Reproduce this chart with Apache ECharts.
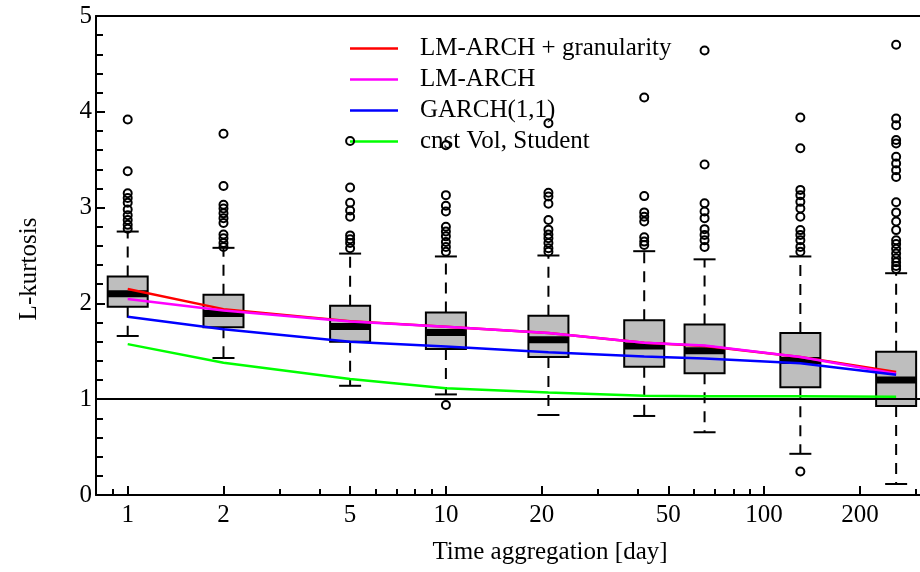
<!DOCTYPE html>
<html>
<head>
<meta charset="utf-8">
<script src="https://cdn.jsdelivr.net/npm/echarts@6/dist/echarts.min.js"></script>
<style>
  html, body { margin: 0; padding: 0; background: #fff; }
  #chart { width: 920px; height: 572px; }
</style>
</head>
<body>
<div id="chart"></div>
<script>
// Aggregation horizons (days) at which the L-kurtosis distribution is summarised
const days = [1, 2, 5, 10, 21, 42, 65, 130, 260];

// Box-and-whisker statistics per horizon
const whiskerLow  = [1.66, 1.43, 1.14, 1.05, 0.835, 0.825, 0.655, 0.43, 0.115];
const quartile1   = [1.965, 1.75, 1.60, 1.525, 1.44, 1.34, 1.27, 1.125, 0.93];
const medians     = [2.10, 1.895, 1.76, 1.695, 1.62, 1.555, 1.505, 1.405, 1.20];
const quartile3   = [2.28, 2.09, 1.975, 1.905, 1.87, 1.825, 1.78, 1.69, 1.495];
const whiskerHigh = [2.75, 2.58, 2.52, 2.49, 2.50, 2.545, 2.46, 2.49, 2.315];

// Outlying values per horizon
const outliers = [
  [3.92, 3.38, 3.15, 3.10, 3.05, 2.98, 2.92, 2.87, 2.82, 2.78],
  [3.77, 3.225, 3.03, 2.99, 2.94, 2.89, 2.84, 2.72, 2.68, 2.63, 2.59],
  [3.695, 3.21, 3.05, 2.97, 2.905, 2.71, 2.67, 2.63, 2.575],
  [3.65, 3.13, 3.02, 2.96, 2.80, 2.75, 2.70, 2.64, 2.59, 2.54, 0.94],
  [3.88, 3.155, 3.115, 3.04, 2.87, 2.77, 2.72, 2.68, 2.63, 2.575, 2.54],
  [4.15, 3.12, 2.95, 2.905, 2.855, 2.69, 2.645, 2.61],
  [4.64, 3.45, 3.045, 2.96, 2.89, 2.775, 2.715, 2.66, 2.59],
  [3.94, 3.62, 3.185, 3.13, 3.06, 2.99, 2.905, 2.765, 2.715, 2.66, 2.59, 2.54, 0.245],
  [4.70, 3.93, 3.86, 3.705, 3.67, 3.53, 3.46, 3.39, 3.32, 3.055, 2.95, 2.855, 2.765,
   2.66, 2.62, 2.57, 2.52, 2.47, 2.43, 2.39, 2.36]
];

// Model curves
const lmArchGranularity = [2.15, 1.94, 1.815, 1.755, 1.69, 1.59, 1.555, 1.44, 1.285];
const lmArch            = [2.045, 1.925, 1.81, 1.755, 1.69, 1.59, 1.56, 1.44, 1.265];
const garch11           = [1.86, 1.73, 1.60, 1.55, 1.49, 1.445, 1.425, 1.375, 1.255];
const cnstVolStudent    = [1.575, 1.38, 1.21, 1.115, 1.07, 1.035, 1.03, 1.03, 1.025];

// Axis settings
const xRangeDays = [0.795, 309];
const xMajorTicks = [1, 2, 5, 10, 20, 50, 100, 200];
const xMinorTicks = [0.9, 3, 4, 6, 7, 8, 9, 30, 40, 60, 70, 80, 90, 300];
const yTicks = [0, 1, 2, 3, 4, 5];
const seriesNames = ['LM-ARCH + granularity', 'LM-ARCH', 'GARCH(1,1)', 'cnst Vol, Student'];

const lg = Math.log10;
const xMin = lg(xRangeDays[0]);
const xMax = lg(xRangeDays[1]);
const FONT = 'Liberation Serif';

const boxData = days.map((d, i) => [lg(d), whiskerLow[i], quartile1[i], medians[i], quartile3[i], whiskerHigh[i]]);
const outlierData = [];
outliers.forEach((list, i) => list.forEach(v => outlierData.push([lg(days[i]), v])));
const curve = vals => days.map((d, i) => [lg(d), vals[i]]);

function renderBox(params, api) {
  const x = api.value(0);
  const lo = api.coord([x, api.value(1)]);
  const q1 = api.coord([x, api.value(2)]);
  const md = api.coord([x, api.value(3)]);
  const q3 = api.coord([x, api.value(4)]);
  const hi = api.coord([x, api.value(5)]);
  const cx = lo[0];
  const hw = 20, cw = 11;
  const dashed = { stroke: '#000', lineWidth: 2, lineDash: [11, 8] };
  const solid = { stroke: '#000', lineWidth: 2 };
  return {
    type: 'group',
    children: [
      { type: 'line', shape: { x1: cx, y1: q3[1], x2: cx, y2: hi[1] }, style: dashed },
      { type: 'line', shape: { x1: cx, y1: q1[1], x2: cx, y2: lo[1] }, style: dashed },
      { type: 'line', shape: { x1: cx - cw, y1: hi[1], x2: cx + cw, y2: hi[1] }, style: solid },
      { type: 'line', shape: { x1: cx - cw, y1: lo[1], x2: cx + cw, y2: lo[1] }, style: solid },
      { type: 'rect', shape: { x: cx - hw, y: q3[1], width: 2 * hw, height: q1[1] - q3[1] },
        style: { fill: '#bebebe', stroke: '#000', lineWidth: 2 } },
      { type: 'line', shape: { x1: cx - hw, y1: md[1], x2: cx + hw, y2: md[1] },
        style: { stroke: '#000', lineWidth: 7 } }
    ]
  };
}

const axisLineStyle = { show: true, onZero: false, lineStyle: { color: '#000', width: 2 } };
const baseX = { type: 'value', min: xMin, max: xMax, splitLine: { show: false } };

const lineSeries = (name, color, vals, extra) => Object.assign({
  name, type: 'line', data: curve(vals), symbol: 'none', z: 3,
  color, lineStyle: { color, width: 2.5 }, silent: true
}, extra || {});

const chart = echarts.init(document.getElementById('chart'), null, { renderer: 'canvas' });
chart.setOption({
  animation: false,
  backgroundColor: '#fff',
  grid: { left: 96, right: 0, top: 16, bottom: 77, outerBoundsMode: 'none', containLabel: false },
  legend: {
    data: seriesNames,
    orient: 'vertical',
    left: 350, top: 36,
    padding: 0,
    itemGap: 6,
    itemWidth: 48, itemHeight: 2.5,
    icon: 'rect',
    selectedMode: false,
    textStyle: { fontFamily: FONT, fontSize: 25, color: '#000', lineHeight: 25, padding: [0, 0, 0, 17] }
  },
  xAxis: [
    Object.assign({}, baseX, {
      position: 'bottom',
      name: 'Time aggregation [day]',
      nameLocation: 'middle',
      nameGap: 45,
      nameTextStyle: { fontFamily: FONT, fontSize: 25, color: '#000', padding: [0, 0, 0, 84] },
      axisLine: axisLineStyle,
      axisTick: { show: true, inside: true, length: 9, customValues: xMajorTicks.map(lg),
                  lineStyle: { color: '#000', width: 2 } },
      axisLabel: { show: true, customValues: xMajorTicks.map(lg), margin: 8,
                   fontFamily: FONT, fontSize: 25, color: '#000',
                   formatter: v => String(Math.round(Math.pow(10, v))) }
    }),
    Object.assign({}, baseX, {
      position: 'bottom',
      axisLine: { show: false, onZero: false },
      axisTick: { show: true, inside: true, length: 6, customValues: xMinorTicks.map(lg),
                  lineStyle: { color: '#000', width: 2 } },
      axisLabel: { show: false }
    }),
    Object.assign({}, baseX, {
      position: 'top',
      axisLine: axisLineStyle,
      axisTick: { show: false },
      axisLabel: { show: false }
    })
  ],
  yAxis: {
    type: 'value', min: yTicks[0], max: yTicks[yTicks.length - 1], interval: 1,
    position: 'left',
    name: 'L-kurtosis',
    nameLocation: 'middle',
    nameGap: 54,
    nameTextStyle: { fontFamily: FONT, fontSize: 25, color: '#000', padding: [0, 27, 0, 0] },
    axisLine: axisLineStyle,
    axisTick: { show: true, inside: true, length: 9, lineStyle: { color: '#000', width: 2 } },
    minorTick: { show: true, splitNumber: 5, length: 7, lineStyle: { color: '#000', width: 2 } },
    axisLabel: { margin: 4, fontFamily: FONT, fontSize: 25, color: '#000' },
    splitLine: { show: false }
  },
  series: [
    {
      type: 'custom',
      renderItem: renderBox,
      data: boxData,
      encode: { x: 0, y: [1, 2, 3, 4, 5] },
      z: 2,
      silent: true
    },
    lineSeries(seriesNames[0], '#ff0000', lmArchGranularity, {
      markLine: {
        silent: true, symbol: 'none', label: { show: false },
        lineStyle: { color: '#000', width: 2, type: 'solid' },
        data: [{ yAxis: 1 }]
      }
    }),
    lineSeries(seriesNames[1], '#ff00ff', lmArch),
    lineSeries(seriesNames[2], '#0000ff', garch11),
    lineSeries(seriesNames[3], '#00ff00', cnstVolStudent),
    {
      type: 'scatter',
      data: outlierData,
      symbol: 'circle',
      symbolSize: 8,
      z: 4,
      silent: true,
      itemStyle: { color: 'rgba(0,0,0,0)', borderColor: '#000', borderWidth: 2, opacity: 1 }
    }
  ]
});
</script>
</body>
</html>
